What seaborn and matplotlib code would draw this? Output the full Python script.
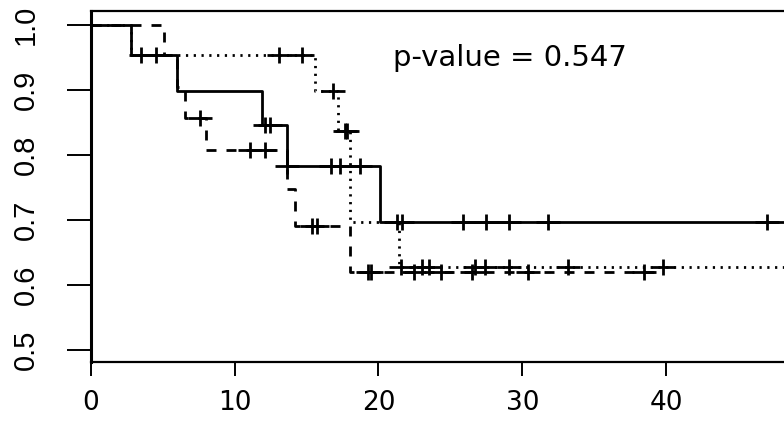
import numpy as np
import pandas as pd
import matplotlib
matplotlib.use("Agg")
import matplotlib.pyplot as plt
from matplotlib.path import Path
import seaborn as sns

# ---- data ----
solid_times = [2.8, 6.0, 11.9, 13.6, 20.1]
solid_surv = [0.954, 0.898, 0.846, 0.7835, 0.697]
solid_end = 49.0
solid_cens = [3.5, 4.5, 12.1, 12.45, 13.66, 16.7, 17.3, 18.7, 21.3, 21.6,
              25.9, 27.5, 29.1, 31.8, 47.0]

dashed_times = [5.1, 6.0, 6.55, 8.0, 13.6, 14.2, 18.05]
dashed_surv = [0.954, 0.905, 0.857, 0.808, 0.747, 0.691, 0.6205]
dashed_end = 39.6
dashed_cens = [7.6, 11.06, 12.1, 15.4, 15.7, 19.3, 19.5, 22.5, 24.35, 26.5,
               30.4, 38.5]

dotted_times = [2.8, 15.6, 17.2, 18.05, 21.4]
dotted_surv = [0.954, 0.898, 0.837, 0.697, 0.628]
dotted_end = 49.0
dotted_cens = [13.1, 14.7, 16.8, 17.7, 17.8, 21.55, 23.0, 23.5, 26.7, 27.4,
               29.1, 33.2, 39.8]

x_ticks = [0, 10, 20, 30, 40]
y_ticks = [0.5, 0.6, 0.7, 0.8, 0.9, 1.0]
annotation = "p-value = 0.547"

# ---- figure ----
sns.set_theme(style="white")
plt.rcParams["font.family"] = ["DejaVu Sans"]

fig = plt.figure(figsize=(7.84, 4.23), dpi=100)
ax = fig.add_axes([91 / 784, 61 / 423, 693 / 784, 351 / 423])

lw = 2.0
plus = Path([(-1.45, 0), (1.45, 0), (0, -1), (0, 1)],
            [Path.MOVETO, Path.LINETO, Path.MOVETO, Path.LINETO])


def curve(times, surv, end):
    xs = [0.0] + list(times) + [end]
    ys = [1.0] + list(surv) + [surv[-1]]
    return pd.DataFrame({"t": xs, "s": ys})


def cens_df(times, surv, cens):
    lv = np.array([1.0] + list(surv))
    idx = np.searchsorted(np.array(times), np.array(cens), side="right")
    return pd.DataFrame({"t": cens, "s": lv[idx]})


groups = [
    (solid_times, solid_surv, solid_end, solid_cens, "-"),
    (dashed_times, dashed_surv, dashed_end, dashed_cens, (0, (3.6, 3.6))),
    (dotted_times, dotted_surv, dotted_end, dotted_cens, (0, (0.8, 2.0))),
]

for times, surv, end, cens, ls in groups:
    d = curve(times, surv, end)
    sns.lineplot(data=d, x="t", y="s", ax=ax, estimator=None, sort=False,
                 drawstyle="steps-post", color="black", linewidth=lw,
                 linestyle=ls)
    c = cens_df(times, surv, cens)
    sns.scatterplot(data=c, x="t", y="s", ax=ax, marker=plus, s=17 ** 2,
                    color="black", edgecolor="black", linewidth=2.0, zorder=5)

ax.text(21.0, 0.937, annotation, fontsize=21, ha="left", va="baseline",
        family=["DejaVu Sans"], color="black")

ax.set_xlim(0, 693 / 14.375)
ax.set_ylim(0.4815, 1.0215)
ax.set_xticks(x_ticks)
ax.set_xticklabels([str(v) for v in x_ticks], fontsize=19,
                   family=["DejaVu Sans"])
ax.set_yticks(y_ticks)
ax.set_yticklabels([f"{v:.1f}" for v in y_ticks], fontsize=21, rotation=90,
                   va="center", family=["Liberation Sans"])
ax.tick_params(axis="x", direction="out", length=10, width=1.4, pad=10,
               colors="black", bottom=True)
ax.tick_params(axis="y", direction="out", length=17, width=1.4, pad=20,
               colors="black", left=True)
ax.set_xlabel("")
ax.set_ylabel("")
for side in ["top", "bottom", "left"]:
    ax.spines[side].set_visible(True)
    ax.spines[side].set_color("black")
    ax.spines[side].set_linewidth(1.6)
ax.spines["left"].set_linewidth(2.2)
ax.spines["right"].set_visible(False)
if ax.get_legend() is not None:
    ax.get_legend().remove()

fig.savefig("out.png", dpi=100)
